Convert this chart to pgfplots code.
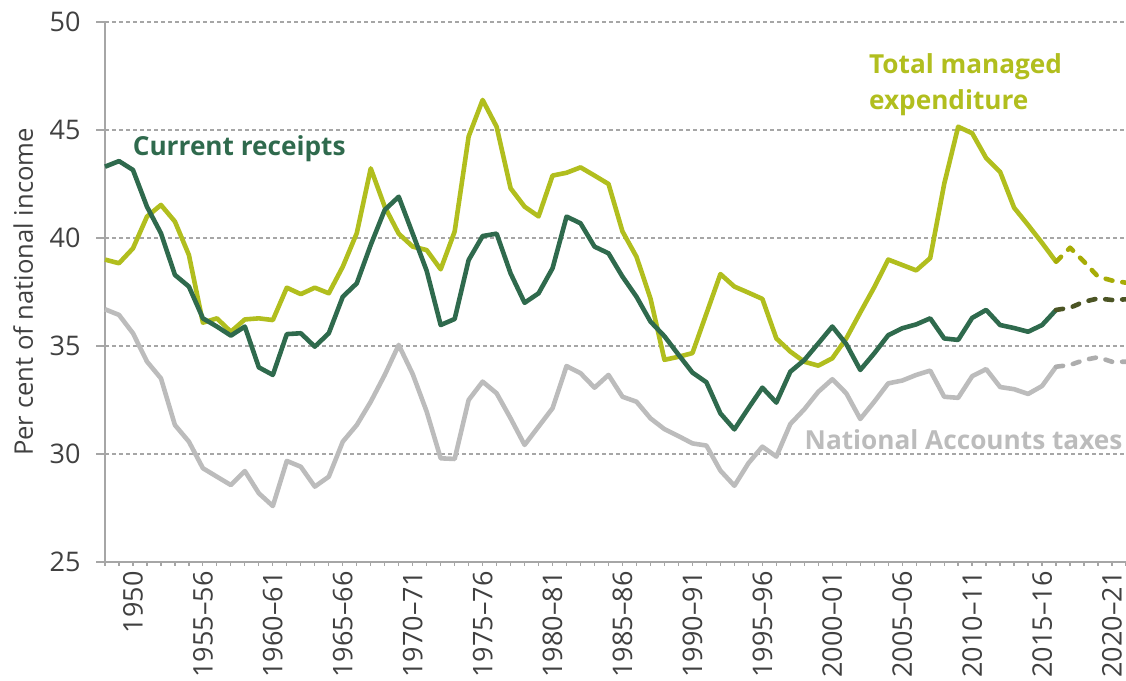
\documentclass[border=0pt]{standalone}
\usepackage{fontspec}
\setmainfont{Open Sans}
\usepackage{pgfplots}
\pgfplotsset{compat=1.18}
\usepackage{pgfplotstable}
\usetikzlibrary{calc}

\definecolor{tmecol}{HTML}{B1BE1E}
\definecolor{tmefc}{HTML}{A7AC06}
\definecolor{reccol}{HTML}{2F6A4D}
\definecolor{recfc}{HTML}{4B5424}
\definecolor{taxcol}{HTML}{BCBCBC}
\definecolor{taxfc}{HTML}{ADADAD}
\definecolor{axisgray}{HTML}{A6A6A6}
\definecolor{labelgray}{HTML}{404040}

% year, total managed expenditure, current receipts, NA taxes (per cent of national income)
\pgfplotstableread{
year  tme    rec    tax
1948  39.00  43.30  36.70
1949  38.83  43.56  36.44
1950  39.52  43.15  35.59
1951  40.99  41.45  34.28
1952  41.53  40.22  33.50
1953  40.76  38.29  31.34
1954  39.21  37.75  30.57
1955  36.08  36.28  29.34
1956  36.28  35.90  28.95
1957  35.66  35.48  28.56
1958  36.23  35.90  29.21
1959  36.28  34.01  28.18
1960  36.20  33.66  27.59
1961  37.70  35.55  29.68
1962  37.40  35.59  29.41
1963  37.70  34.97  28.49
1964  37.44  35.59  28.95
1965  38.67  37.28  30.57
1966  40.22  37.90  31.34
1967  43.22  39.68  32.42
1968  41.45  41.30  33.66
1969  40.20  41.91  35.05
1970  39.60  40.20  33.70
1971  39.44  38.48  31.96
1972  38.55  35.97  29.80
1973  40.30  36.25  29.77
1974  44.70  38.98  32.50
1975  46.39  40.09  33.35
1976  45.15  40.20  32.81
1977  42.30  38.36  31.65
1978  41.45  37.00  30.42
1979  41.00  37.44  31.27
1980  42.89  38.60  32.12
1981  43.02  40.99  34.07
1982  43.27  40.68  33.74
1983  42.89  39.60  33.07
1984  42.50  39.29  33.66
1985  40.30  38.21  32.65
1986  39.13  37.28  32.42
1987  37.20  36.13  31.65
1988  34.36  35.45  31.15
1989  34.50  34.60  30.83
1990  34.67  33.77  30.49
1991  36.50  33.32  30.39
1992  38.33  31.88  29.23
1993  37.75  31.14  28.53
1994  37.47  32.12  29.57
1995  37.18  33.07  30.34
1996  35.35  32.38  29.88
1997  34.74  33.81  31.39
1998  34.27  34.35  32.07
1999  34.09  35.12  32.88
2000  34.43  35.90  33.46
2001  35.35  35.09  32.81
2002  36.55  33.89  31.62
2003  37.72  34.66  32.42
2004  39.00  35.50  33.27
2005  38.75  35.82  33.40
2006  38.50  36.00  33.66
2007  39.07  36.28  33.86
2008  42.50  35.35  32.65
2009  45.15  35.28  32.60
2010  44.85  36.30  33.60
2011  43.70  36.67  33.93
2012  43.06  35.97  33.10
2013  41.40  35.83  33.00
2014  40.60  35.66  32.78
2015  39.77  35.97  33.15
2016  38.90  36.67  34.04
}\outturn

% forecasts
\pgfplotstableread{
year  tme    rec    tax
2016  38.90  36.67  34.04
2017  39.55  36.77  34.12
2018  38.90  37.05  34.35
2019  38.21  37.20  34.48
2020  38.03  37.13  34.27
2021  37.93  37.16  34.27
}\forecast

\begin{document}
\begin{tikzpicture}
\begin{axis}[
    name=ax,
    width=510.5pt, height=270pt, scale only axis,
    xmin=1948, xmax=2021, ymin=25, ymax=50,
    axis x line*=bottom, axis y line*=left,
    axis line style={axisgray, line width=0.6pt},
    ytick={25,30,...,50},
    ymajorgrids,
    grid style={axisgray, dash pattern=on 2pt off 1.5pt, line width=0.6pt},
    xtick={1950,1955,...,2020},
    xticklabels={1950,1955--56,1960--61,1965--66,1970--71,1975--76,1980--81,1985--86,1990--91,1995--96,2000--01,2005--06,2010--11,2015--16,2020--21},
    minor xtick={1948,...,2021},
    tick align=outside,
    major tick length=4.5pt, minor tick length=2pt,
    major x tick style={draw=none},
    tick style={axisgray, line width=0.6pt},
    /pgf/number format/assume math mode=true,
    tick label style={font=\fontsize{13.5}{15}\selectfont, text=labelgray},
    yticklabel style={anchor=east, inner sep=0pt, xshift=-7.5pt},
    xticklabel style={rotate=90, anchor=east, inner sep=0pt, yshift=0pt},
    ylabel={Per cent of national income},
    ylabel style={at={(axis description cs:-0.080,0.5)}, anchor=center,
        font=\fontsize{12.8}{14}\selectfont, text=labelgray},
    clip=false,
    line join=round,
]
\addplot[tmecol, line width=2.3pt] table[x=year, y=tme] {\outturn};
\addplot[reccol, line width=2.3pt] table[x=year, y=rec] {\outturn};
\addplot[taxcol, line width=2.3pt] table[x=year, y=tax] {\outturn};
\addplot[tmefc, line width=2.3pt, line cap=round, dash pattern=on 3.5pt off 5pt] table[x=year, y=tme] {\forecast};
\addplot[recfc, line width=2.3pt, line cap=round, dash pattern=on 3.5pt off 5pt] table[x=year, y=rec] {\forecast};
\addplot[taxfc, line width=2.3pt, line cap=round, dash pattern=on 3.5pt off 5pt] table[x=year, y=tax] {\forecast};

\node[anchor=base west, inner sep=0pt, text=reccol, font=\bfseries\fontsize{13.1}{14}\selectfont]
    at (axis cs:1949.96,43.84) {Current receipts};
\node[anchor=base west, inner sep=0pt, text=tmecol, font=\bfseries\fontsize{13.1}{14}\selectfont]
    at (axis cs:2002.6,47.62) {Total managed};
\node[anchor=base west, inner sep=0pt, text=tmecol, font=\bfseries\fontsize{13.1}{14}\selectfont]
    at (axis cs:2002.6,45.93) {expenditure};
\node[anchor=base west, inner sep=0pt, text=taxcol, font=\bfseries\fontsize{13.1}{14}\selectfont]
    at (axis cs:1998.0,30.19) {National Accounts taxes};
\end{axis}
\pgfresetboundingbox
\path[use as bounding box] ($(ax.south west)+(-52.5pt,-59.5pt)$) rectangle ($(ax.north east)+(0,11pt)$);
\end{tikzpicture}
\end{document}
